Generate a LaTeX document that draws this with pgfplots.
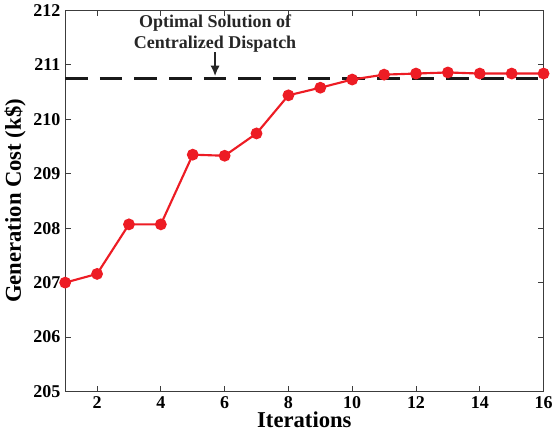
\documentclass[border=0pt]{standalone}
\usepackage{fontspec}
\setmainfont{Liberation Serif}
\usepackage{pgfplots}
\pgfplotsset{compat=1.18}
\usetikzlibrary{arrows.meta}
\definecolor{cred}{RGB}{237,28,36}
\definecolor{axgray}{RGB}{60,60,60}

\begin{document}
\begin{tikzpicture}
\begin{axis}[
  scale only axis,
  width=359pt, height=286pt,
  xmin=1, xmax=16, ymin=205, ymax=212,
  xtick={2,4,...,16}, ytick={205,206,...,212},
  tick align=inside,
  axis line style={axgray, line width=0.9pt},
  major tick style={axgray, line width=0.6pt},
  major tick length=4pt,
  /pgf/number format/assume math mode=true,
  /pgf/number format/1000 sep={},
  ticklabel style={font=\fontsize{13.5}{15}\selectfont\bfseries},
  xlabel={Iterations}, ylabel={Generation Cost (k\$)},
  label style={font=\fontsize{17}{19}\selectfont\bfseries},
  xlabel style={yshift=4pt},
  ylabel style={yshift=-1pt},
]
\addplot[black!90, line width=2.2pt, dash pattern=on 17pt off 9pt] coordinates {(1,210.75) (16,210.75)};
\addplot[cred, line width=1.6pt, mark=*, mark size=3.6pt, mark options={solid, fill=cred}] coordinates {
(1,207.00) (2,207.16) (3,208.07) (4,208.07) (5,209.35) (6,209.33) (7,209.74) (8,210.44)
(9,210.58) (10,210.73) (11,210.82) (12,210.84) (13,210.86) (14,210.84) (15,210.84) (16,210.84)
};
\node[font=\fontsize{13.5}{15.5}\selectfont\bfseries, align=center, text=black!85] at (axis cs:5.7,211.57) {Optimal Solution of\\Centralized Dispatch};
\draw[-{Latex[length=8pt,width=7pt]}, line width=1.5pt, black!85] (axis cs:5.7,211.23) -- (axis cs:5.7,210.79);
\end{axis}
\end{tikzpicture}
\end{document}
